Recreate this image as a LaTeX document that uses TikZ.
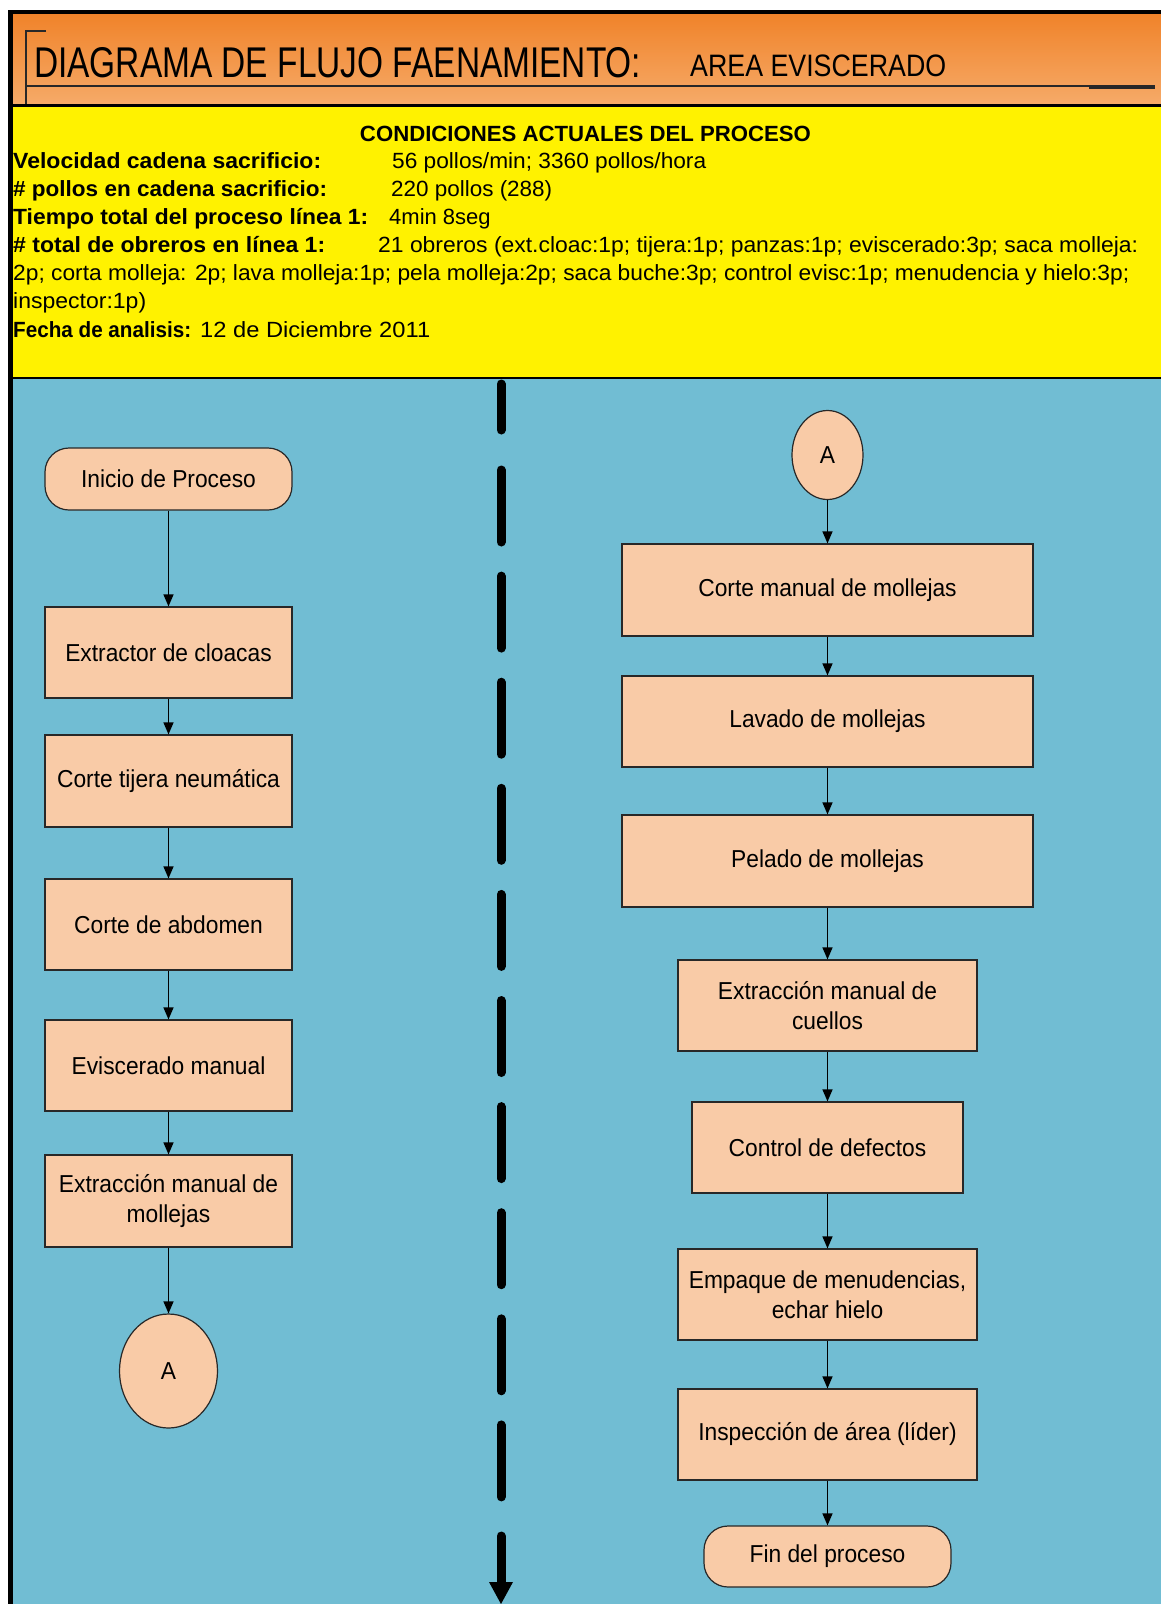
\documentclass[tikz,border=0pt]{standalone}
\usepackage{fontspec}
\setmainfont{Liberation Sans}
\usepackage{graphicx}
\usetikzlibrary{arrows.meta,shapes.geometric}

\definecolor{hdrtop}{RGB}{240,131,42}
\definecolor{hdrbot}{RGB}{246,170,104}
\definecolor{skyb}{RGB}{113,189,211}
\definecolor{peach}{RGB}{249,203,167}
\definecolor{edgec}{RGB}{40,40,40}

\newcommand\fitw[2]{\resizebox{#1pt}{\height}{#2}}
\newcommand\cnd[1]{\scalebox{0.93}[1]{#1}}

\tikzset{
  procbox/.style={rectangle, draw=edgec, line width=1.2pt, fill=peach, inner sep=0pt,
    align=center, font=\fontsize{24.5}{30}\selectfont},
  termbox/.style={procbox, rounded corners=24pt},
  connbox/.style={ellipse, draw=edgec, line width=1.2pt, fill=peach, inner sep=0pt,
    font=\fontsize{24.5}{30}\selectfont},
  flow/.style={draw=black, line width=1.3pt, -{Triangle[width=10pt,length=12pt]}},
  infotxt/.style={anchor=base west, inner sep=0pt, font=\fontsize{22}{28}\selectfont},
  infobold/.style={anchor=base west, inner sep=0pt, font=\fontsize{22}{28}\selectfont\bfseries},
  divdash/.style={line width=9pt, line cap=round, black},
}

\begin{document}
\begin{tikzpicture}[x=1pt,y=-1pt]
\useasboundingbox (0,0) rectangle (1161,1604);
\fill[white] (0,0) rectangle (1161,1604);

% header band
\shade[top color=hdrtop, bottom color=hdrbot] (8,14) rectangle (1161,104);
\fill[yellow] (8,104) rectangle (1161,378);
\fill[skyb] (8,378) rectangle (1161,1604);

% frame lines
\fill[black] (8,10) rectangle (1161,14);
\fill[black] (8,10) rectangle (13,1604);
\fill[black] (8,104) rectangle (1161,107);
\draw[line width=1.6pt, black] (8,378) -- (1161,378);

% header decoration lines
\draw[line width=1.2pt, edgec] (46,31) -- (26,31) -- (26,104);
\draw[line width=1.2pt, edgec] (26,86) -- (1155,86);
\draw[line width=3pt, edgec] (1089,87) -- (1155,87);

% titles
\node[anchor=base west, inner sep=0pt, font=\fontsize{43}{44}\selectfont] (title) at (34,77)
  {\fitw{607}{DIAGRAMA DE FLUJO FAENAMIENTO:}};
\node[anchor=base west, inner sep=0pt, font=\fontsize{31}{32}\selectfont] (area) at (690,76)
  {\fitw{256}{AREA EVISCERADO}};

% conditions block
\node[anchor=base, inner sep=0pt, font=\fontsize{22}{28}\selectfont\bfseries] (cond) at (585.5,141)
  {\fitw{451}{CONDICIONES ACTUALES DEL PROCESO}};
\node[infobold] (l1a) at (13,168.5) {\fitw{308}{Velocidad cadena sacrificio:}};
\node[infotxt]  (l1b) at (392,168.5) {\fitw{314}{56 pollos/min; 3360 pollos/hora}};
\node[infobold] (l2a) at (13,196.5) {\fitw{314}{\# pollos en cadena sacrificio:}};
\node[infotxt]  (l2b) at (391,196.5) {\fitw{161}{220 pollos (288)}};
\node[infobold] (l3a) at (13,224.5) {\fitw{355}{Tiempo total del proceso línea 1:}};
\node[infotxt]  (l3b) at (389,224.5) {4min 8seg};
\node[infobold] (l4a) at (13,252.5) {\fitw{312}{\# total de obreros en línea 1:}};
\node[infotxt]  (l4b) at (378,252.5) {\fitw{760}{21 obreros (ext.cloac:1p; tijera:1p; panzas:1p; eviscerado:3p; saca molleja:}};
\node[infotxt]  (l5)  at (13,280.5) {\fitw{1116}{2p; corta molleja: 2p; lava molleja:1p; pela molleja:2p; saca buche:3p; control evisc:1p; menudencia y hielo:3p;}};
\node[infotxt]  (l6)  at (13,308.5) {\fitw{133}{inspector:1p)}};
\node[infobold] (l7a) at (13,337.5) {\fitw{178}{Fecha de analisis:}};
\node[infotxt]  (l7b) at (200,337.5) {\fitw{230}{12 de Diciembre 2011}};

% dashed divider with arrow
\draw[divdash] (501,384) -- (501,430);
\foreach \k in {0,...,9} {
  \pgfmathsetmacro\ds{470+106.1*\k}
  \draw[divdash] (501,\ds) -- (501,\ds+72);
}
\draw[divdash] (501,1536) -- (501,1586);
\fill[black] (489,1582) -- (513,1582) -- (501,1604) -- cycle;

% left column
\node[termbox, minimum width=247pt, minimum height=62pt] (inicio) at (168.5,479) {\cnd{Inicio de Proceso}};
\node[procbox, minimum width=247pt, minimum height=91pt] (extractor) at (168.5,652.5) {\cnd{Extractor de cloacas}};
\node[procbox, minimum width=247pt, minimum height=92pt] (tijera) at (168.5,781) {\cnd{Corte tijera neumática}};
\node[procbox, minimum width=247pt, minimum height=91pt] (abdomen) at (168.5,924.5) {\cnd{Corte de abdomen}};
\node[procbox, minimum width=247pt, minimum height=91pt] (evisc) at (168.5,1065.5) {\cnd{Eviscerado manual}};
\node[procbox, minimum width=247pt, minimum height=92pt] (extmol) at (168.5,1201) {\cnd{Extracción manual de}\\\cnd{mollejas}};
\node[connbox, minimum width=98pt, minimum height=114pt] (aleft) at (168.5,1371) {\cnd{A}};

\draw[flow] (inicio) -- (extractor);
\draw[flow] (extractor) -- (tijera);
\draw[flow] (tijera) -- (abdomen);
\draw[flow] (abdomen) -- (evisc);
\draw[flow] (evisc) -- (extmol);
\draw[flow] (extmol) -- (aleft);

% right column
\node[connbox, minimum width=71pt, minimum height=89pt] (aright) at (827.5,455) {\cnd{A}};
\node[procbox, minimum width=411pt, minimum height=92pt] (cortemol) at (827.5,590) {\cnd{Corte manual de mollejas}};
\node[procbox, minimum width=411pt, minimum height=91pt] (lavado) at (827.5,721.5) {\cnd{Lavado de mollejas}};
\node[procbox, minimum width=411pt, minimum height=92pt] (pelado) at (827.5,861) {\cnd{Pelado de mollejas}};
\node[procbox, minimum width=299pt, minimum height=91pt] (cuellos) at (827.5,1005.5) {\cnd{Extracción manual de}\\\cnd{cuellos}};
\node[procbox, minimum width=271pt, minimum height=91pt] (control) at (827.5,1147.5) {\cnd{Control de defectos}};
\node[procbox, minimum width=299pt, minimum height=91pt] (empaque) at (827.5,1294.5) {\cnd{Empaque de menudencias,}\\\cnd{echar hielo}};
\node[procbox, minimum width=299pt, minimum height=91pt] (inspec) at (827.5,1434.5) {\cnd{Inspección de área (líder)}};
\node[termbox, minimum width=247pt, minimum height=61pt] (fin) at (827.5,1556.5) {\cnd{Fin del proceso}};

\draw[flow] (aright) -- (cortemol);
\draw[flow] (cortemol) -- (lavado);
\draw[flow] (lavado) -- (pelado);
\draw[flow] (pelado) -- (cuellos);
\draw[flow] (cuellos) -- (control);
\draw[flow] (control) -- (empaque);
\draw[flow] (empaque) -- (inspec);
\draw[flow] (inspec) -- (fin);
\end{tikzpicture}
\end{document}
